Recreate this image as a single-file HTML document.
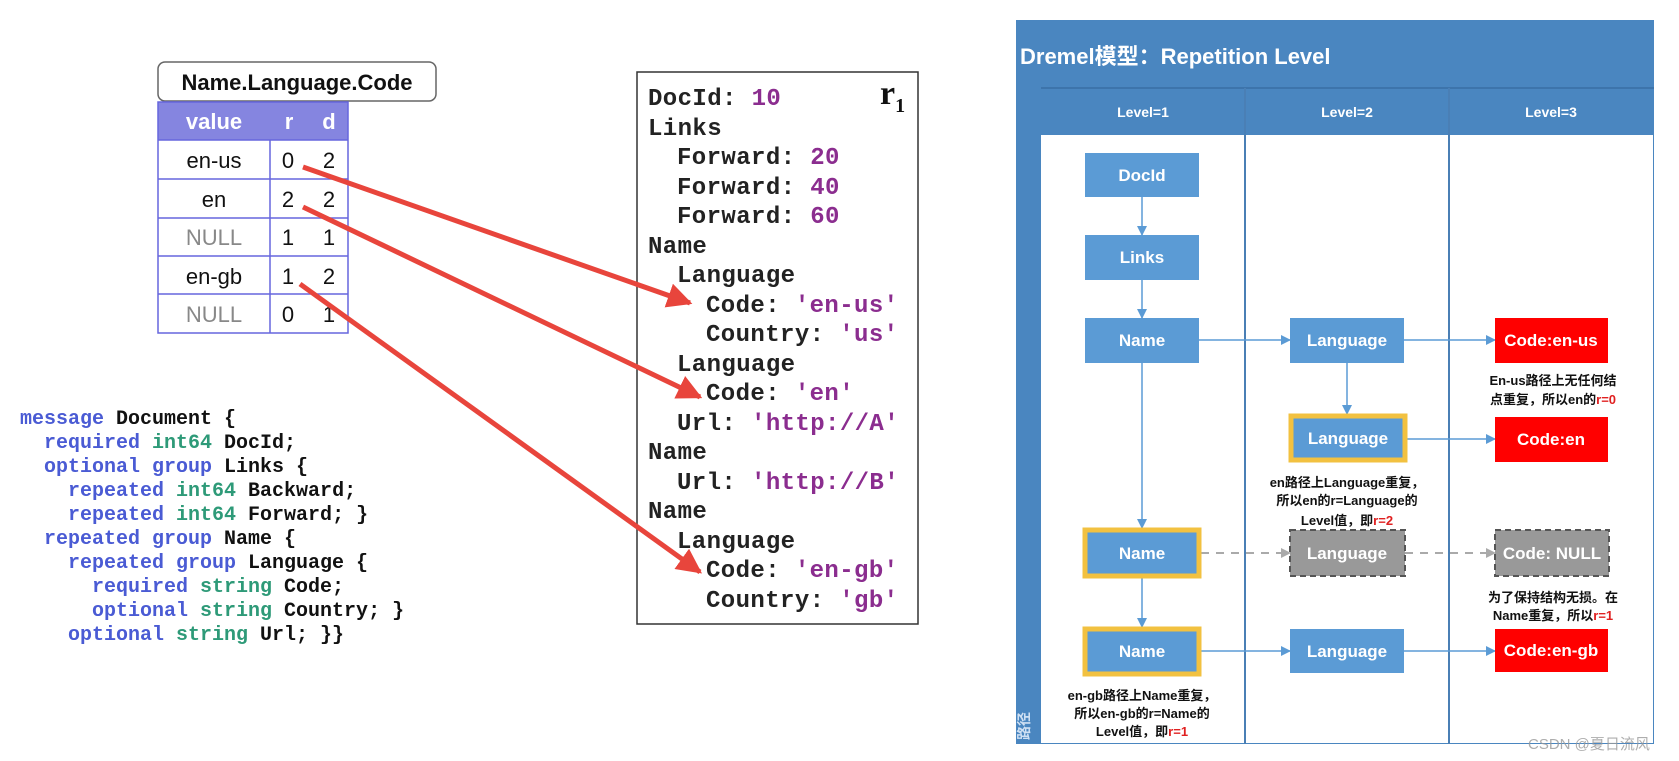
<!DOCTYPE html>
<html><head><meta charset="utf-8"><style>
html,body{margin:0;padding:0;background:#fff;}
svg{display:block;}
.mono{font-family:"Liberation Mono",monospace;font-weight:bold;}
.cj{font-family:"Liberation Sans","Noto Sans CJK SC",sans-serif;font-weight:bold;}
</style></head><body>
<svg width="1679" height="761" viewBox="0 0 1679 761" xmlns="http://www.w3.org/2000/svg">
<defs>
<marker id="ra" viewBox="0 0 10 10" refX="9" refY="5" markerWidth="5" markerHeight="5" orient="auto" markerUnits="strokeWidth"><path d="M0,0 L10,5 L0,10 z" fill="#e8453c"/></marker>
<marker id="ba" viewBox="0 0 10 10" refX="9" refY="5" markerWidth="10" markerHeight="10" orient="auto" markerUnits="userSpaceOnUse"><path d="M0,0 L10,5 L0,10 z" fill="#5b9bd5"/></marker>
<marker id="ga" viewBox="0 0 10 10" refX="9" refY="5" markerWidth="10" markerHeight="10" orient="auto" markerUnits="userSpaceOnUse"><path d="M0,0 L10,5 L0,10 z" fill="#aaa"/></marker>
</defs>

<!-- Table -->
<rect x="158" y="62" width="278" height="39" rx="7" fill="#fff" stroke="#666" stroke-width="1.5"/>
<text x="297" y="90" text-anchor="middle" font-family="Liberation Sans,sans-serif" font-weight="bold" font-size="22" fill="#111">Name.Language.Code</text>
<rect x="158" y="102" width="190" height="38" fill="#8585e0"/>
<text x="214" y="129" text-anchor="middle" font-family="Liberation Sans,sans-serif" font-weight="bold" font-size="22" fill="#fff">value</text>
<text x="289" y="129" text-anchor="middle" font-family="Liberation Sans,sans-serif" font-weight="bold" font-size="22" fill="#fff">r</text>
<text x="329" y="129" text-anchor="middle" font-family="Liberation Sans,sans-serif" font-weight="bold" font-size="22" fill="#fff">d</text>
<g stroke="#6666dd" stroke-width="1.5" fill="none">
<rect x="158" y="102" width="190" height="231"/>
<line x1="158" y1="140" x2="348" y2="140"/><line x1="158" y1="179" x2="348" y2="179"/>
<line x1="158" y1="218" x2="348" y2="218"/><line x1="158" y1="256" x2="348" y2="256"/>
<line x1="158" y1="294" x2="348" y2="294"/><line x1="270" y1="140" x2="270" y2="333"/>
</g>
<g font-family="Liberation Sans,sans-serif" font-size="22" text-anchor="middle" fill="#111">
<text x="214" y="168">en-us</text><text x="288" y="168">0</text><text x="329" y="168">2</text>
<text x="214" y="207">en</text><text x="288" y="207">2</text><text x="329" y="207">2</text>
<text x="214" y="245" fill="#888">NULL</text><text x="288" y="245">1</text><text x="329" y="245">1</text>
<text x="214" y="284">en-gb</text><text x="288" y="284">1</text><text x="329" y="284">2</text>
<text x="214" y="322" fill="#888">NULL</text><text x="288" y="322">0</text><text x="329" y="322">1</text>
</g>

<!-- record -->
<rect x="637" y="72" width="281" height="552" fill="#fff" stroke="#333" stroke-width="1.5"/>
<text x="880" y="104" font-family="Liberation Serif,serif" font-weight="bold" font-size="34" fill="#111">r<tspan font-size="20" dy="8">1</tspan></text>
<g class="mono" font-size="24" fill="#222" letter-spacing="0.4">
<text x="648" y="105">DocId: <tspan fill="#8b2d8f">10</tspan></text>
<text x="648" y="135">Links</text>
<text x="677" y="164">Forward: <tspan fill="#8b2d8f">20</tspan></text>
<text x="677" y="194">Forward: <tspan fill="#8b2d8f">40</tspan></text>
<text x="677" y="223">Forward: <tspan fill="#8b2d8f">60</tspan></text>
<text x="648" y="253">Name</text>
<text x="677" y="282">Language</text>
<text x="706" y="312">Code: <tspan fill="#8b2d8f">'en-us'</tspan></text>
<text x="706" y="341">Country: <tspan fill="#8b2d8f">'us'</tspan></text>
<text x="677" y="371">Language</text>
<text x="706" y="400">Code: <tspan fill="#8b2d8f">'en'</tspan></text>
<text x="677" y="430">Url: <tspan fill="#8b2d8f">'http://A'</tspan></text>
<text x="648" y="459">Name</text>
<text x="677" y="489">Url: <tspan fill="#8b2d8f">'http://B'</tspan></text>
<text x="648" y="518">Name</text>
<text x="677" y="548">Language</text>
<text x="706" y="577">Code: <tspan fill="#8b2d8f">'en-gb'</tspan></text>
<text x="706" y="607">Country: <tspan fill="#8b2d8f">'gb'</tspan></text>
</g>

<!-- schema -->
<g class="mono" font-size="20" fill="#111">
<text x="20" y="424"><tspan fill="#4a5bd4">message</tspan> Document {</text>
<text x="44" y="448"><tspan fill="#4a5bd4">required</tspan> <tspan fill="#2e9a78">int64</tspan> DocId;</text>
<text x="44" y="472"><tspan fill="#4a5bd4">optional group</tspan> Links {</text>
<text x="68" y="496"><tspan fill="#4a5bd4">repeated</tspan> <tspan fill="#2e9a78">int64</tspan> Backward;</text>
<text x="68" y="520"><tspan fill="#4a5bd4">repeated</tspan> <tspan fill="#2e9a78">int64</tspan> Forward; }</text>
<text x="44" y="544"><tspan fill="#4a5bd4">repeated group</tspan> Name {</text>
<text x="68" y="568"><tspan fill="#4a5bd4">repeated group</tspan> Language {</text>
<text x="92" y="592"><tspan fill="#4a5bd4">required</tspan> <tspan fill="#2e9a78">string</tspan> Code;</text>
<text x="92" y="616"><tspan fill="#4a5bd4">optional</tspan> <tspan fill="#2e9a78">string</tspan> Country; }</text>
<text x="68" y="640"><tspan fill="#4a5bd4">optional</tspan> <tspan fill="#2e9a78">string</tspan> Url; }}</text>
</g>

<!-- red arrows -->
<g stroke="#e8453c" stroke-width="5" fill="none" marker-end="url(#ra)">
<line x1="303" y1="167" x2="690" y2="303"/>
<line x1="303" y1="207" x2="700" y2="397"/>
<line x1="300" y1="284" x2="700" y2="572"/>
</g>

<!-- right panel -->
<rect x="1016" y="20" width="638" height="724" fill="#4a86c0"/>
<rect x="1041" y="135" width="612" height="608" fill="#fff"/>
<line x1="1041" y1="88" x2="1654" y2="88" stroke="#3d74ab" stroke-width="2"/>
<g stroke="#4a7fb5" stroke-width="2"><line x1="1245" y1="88" x2="1245" y2="744"/><line x1="1449" y1="88" x2="1449" y2="744"/></g>
<text x="1020" y="64" class="cj" font-size="22" fill="#fff">Dremel模型：Repetition Level</text>
<g class="cj" font-size="14" fill="#fff" text-anchor="middle">
<text x="1143" y="117">Level=1</text><text x="1347" y="117">Level=2</text><text x="1551" y="117">Level=3</text>
</g>
<text x="1029" y="726" class="cj" font-size="14" fill="#cfe0f3" text-anchor="middle" transform="rotate(-90 1029 726)">路径</text>

<!-- connectors -->
<g stroke="#5b9bd5" stroke-width="1.5" fill="none" marker-end="url(#ba)">
<line x1="1142" y1="197" x2="1142" y2="235"/>
<line x1="1142" y1="280" x2="1142" y2="318"/>
<line x1="1142" y1="363" x2="1142" y2="528"/>
<line x1="1142" y1="578" x2="1142" y2="627"/>
<line x1="1199" y1="340" x2="1290" y2="340"/>
<line x1="1404" y1="340" x2="1495" y2="340"/>
<line x1="1347" y1="363" x2="1347" y2="414"/>
<line x1="1407" y1="439" x2="1495" y2="439"/>
<line x1="1201" y1="651" x2="1290" y2="651"/>
<line x1="1404" y1="651" x2="1495" y2="651"/>
</g>
<g stroke="#aaa" stroke-width="2" stroke-dasharray="8,7" fill="none" marker-end="url(#ga)">
<line x1="1201" y1="553" x2="1290" y2="553"/>
<line x1="1405" y1="553" x2="1495" y2="553"/>
</g>

<!-- boxes -->
<g fill="#5b9bd5">
<rect x="1085" y="153" width="114" height="44"/>
<rect x="1085" y="235" width="114" height="45"/>
<rect x="1085" y="318" width="114" height="45"/>
<rect x="1290" y="318" width="114" height="45"/>
<rect x="1290" y="629" width="114" height="44"/>
</g>
<g fill="#5b9bd5" stroke="#f2c140" stroke-width="5">
<rect x="1291" y="416" width="114" height="44"/>
<rect x="1085" y="530" width="114" height="46"/>
<rect x="1085" y="629" width="114" height="45"/>
</g>
<g fill="#999" stroke="#555" stroke-width="2" stroke-dasharray="6,4">
<rect x="1290" y="530" width="115" height="46"/>
<rect x="1495" y="530" width="114" height="46"/>
</g>
<g fill="#f00">
<rect x="1495" y="318" width="113" height="45"/>
<rect x="1495" y="417" width="113" height="45"/>
<rect x="1495" y="629" width="113" height="43"/>
</g>
<g class="cj" font-size="17" fill="#fff" text-anchor="middle">
<text x="1142" y="181">DocId</text>
<text x="1142" y="263">Links</text>
<text x="1142" y="346">Name</text>
<text x="1347" y="346">Language</text>
<text x="1551" y="346">Code:en-us</text>
<text x="1348" y="444">Language</text>
<text x="1551" y="445">Code:en</text>
<text x="1142" y="559">Name</text>
<text x="1347" y="559">Language</text>
<text x="1552" y="559">Code: NULL</text>
<text x="1142" y="657">Name</text>
<text x="1347" y="657">Language</text>
<text x="1551" y="656">Code:en-gb</text>
</g>
<g class="cj" font-size="13" fill="#111" text-anchor="middle">
<text x="1553" y="385">En-us路径上无任何结</text>
<text x="1553" y="404">点重复，所以en的<tspan fill="#e02020">r=0</tspan></text>
<text x="1347" y="487">en路径上Language重复，</text>
<text x="1347" y="505">所以en的r=Language的</text>
<text x="1347" y="525">Level值，即<tspan fill="#e02020">r=2</tspan></text>
<text x="1553" y="602">为了保持结构无损。在</text>
<text x="1553" y="620">Name重复，所以<tspan fill="#e02020">r=1</tspan></text>
<text x="1142" y="700">en-gb路径上Name重复，</text>
<text x="1142" y="718">所以en-gb的r=Name的</text>
<text x="1142" y="736">Level值，即<tspan fill="#e02020">r=1</tspan></text>
</g>
<text x="1528" y="749" font-family="Liberation Sans,'Noto Sans CJK SC',sans-serif" font-size="15" fill="#999" opacity="0.8">CSDN @夏日流风</text>
</svg>
</body></html>
